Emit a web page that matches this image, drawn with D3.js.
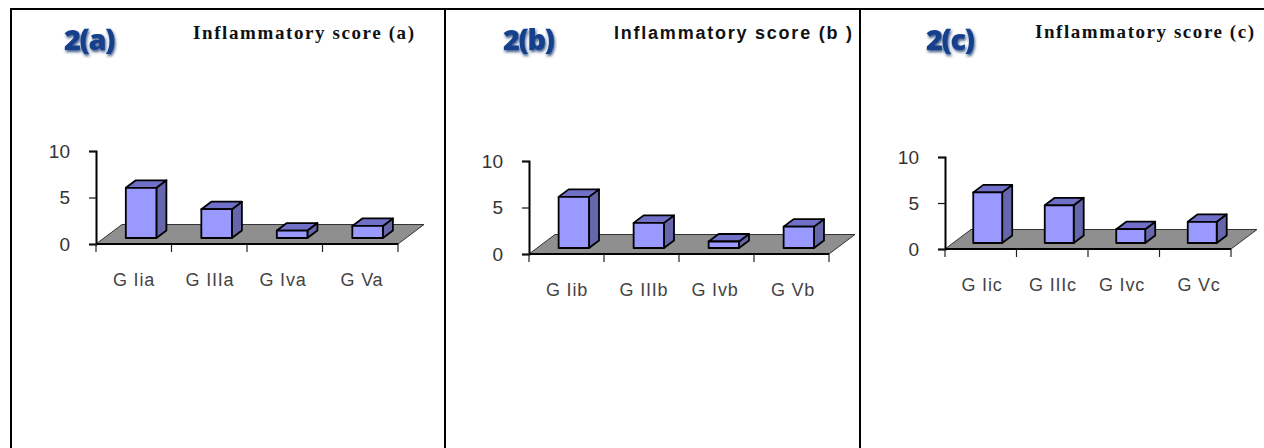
<!DOCTYPE html>
<html><head><meta charset="utf-8">
<script src="https://cdnjs.cloudflare.com/ajax/libs/d3/7.8.5/d3.min.js"></script>
<style>html,body{margin:0;padding:0;background:#fff;overflow:hidden}svg{display:block}</style>
</head><body><svg id="c" width="1264" height="448"></svg>
<script>
const categoriesA = ["G Iia","G IIIa","G Iva","G Va"];
const categoriesB = ["G Iib","G IIIb","G Ivb","G Vb"];
const categoriesC = ["G Iic","G IIIc","G Ivc","G Vc"];
const valuesA = [5.4,3.1,0.8,1.3];
const valuesB = [5.5,2.7,0.7,2.3];
const valuesC = [5.5,4.1,1.5,2.3];
const yTicks = [0,5,10];
const panelLabels = ["2(a)","2(b)","2(c)"];
const titles = ["Inflammatory score (a)","Inflammatory score (b )","Inflammatory score (c)"];

const layout = [
 {x0:96,x1:398,yZero:244,yTop:151,cats:categoriesA,vals:valuesA,label:panelLabels[0],lx:64,ly:50,title:titles[0],tx:193,ty:39,tf:"'Liberation Serif'",tw:221,fs:19,
  catX:[134,210,283,362],catY:286},
 {x0:529,x1:829,yZero:254,yTop:161,cats:categoriesB,vals:valuesB,label:panelLabels[1],lx:503,ly:50,title:titles[1],tx:614,ty:39,tf:"'Liberation Sans'",tw:238,fs:18,
  catX:[567,644,715,793],catY:296},
 {x0:945,x1:1231,yZero:249,yTop:157,cats:categoriesC,vals:valuesC,label:panelLabels[2],lx:926,ly:50,title:titles[2],tx:1035,ty:38,tf:"'Liberation Serif'",tw:219,fs:19,
  catX:[982,1053,1122,1199],catY:291}
];

const svg = d3.select("#c");
const defs = svg.append("defs");
const f = defs.append("filter").attr("id","glow").attr("x","-30%").attr("y","-30%").attr("width","170%").attr("height","170%");
f.append("feGaussianBlur").attr("in","SourceAlpha").attr("stdDeviation",1.8).attr("result","b");
f.append("feOffset").attr("in","b").attr("dx",1).attr("dy",2).attr("result","o");
f.append("feFlood").attr("flood-color","#0b2a66").attr("flood-opacity",0.8);
f.append("feComposite").attr("in2","o").attr("operator","in").attr("result","s");
const m = f.append("feMerge"); m.append("feMergeNode").attr("in","s"); m.append("feMergeNode").attr("in","SourceGraphic");

// table frame
const frame = svg.append("g").attr("fill","none").attr("stroke","#000").attr("stroke-width",2);
frame.append("line").attr("x1",10).attr("x2",1264).attr("y1",9).attr("y2",9);
[11,445,860].forEach(x=>frame.append("line").attr("x1",x).attr("x2",x).attr("y1",8).attr("y2",448));

const depthX = 26, depthY = 19.5;   // floor depth
const barDX = 10, barDY = 7.5;      // bar depth
const line = d3.line();

layout.forEach(p=>{
  const g = svg.append("g");
  const y = d3.scaleLinear().domain([0,10]).range([p.yZero,p.yTop]);
  const x = d3.scaleBand().domain(p.cats).range([p.x0,p.x1]);
  const bw = x.bandwidth();

  // floor
  g.append("path").attr("d",line([[p.x0,p.yZero],[p.x0+depthX,p.yZero-depthY],[p.x1+depthX,p.yZero-depthY],[p.x1,p.yZero]])+"Z")
    .attr("fill","#8f8f8f").attr("stroke","#333").attr("stroke-width",1);
  g.append("line").attr("x1",p.x0).attr("x2",p.x1).attr("y1",p.yZero).attr("y2",p.yZero).attr("stroke","#000").attr("stroke-width",2);

  // y axis
  const ya = g.append("g").attr("transform",`translate(${p.x0},0)`)
    .call(d3.axisLeft(y).tickValues(yTicks).tickSize(7).tickPadding(19));
  ya.select(".domain").attr("stroke","#000").attr("stroke-width",2);
  ya.selectAll(".tick line").attr("stroke","#111").attr("stroke-width",1.2);
  ya.selectAll("text").attr("font-family","'Liberation Sans'").attr("font-size",19).attr("fill","#333");

  // x axis ticks
  const xa = g.append("g").attr("transform",`translate(0,${p.yZero})`)
    .call(d3.axisBottom(x).tickSize(0).tickFormat(""));
  xa.select(".domain").remove();
  g.selectAll("line.xt").data(x.domain().map(d=>x(d)).concat([p.x1])).join("line").attr("class","xt")
    .attr("x1",d=>d).attr("x2",d=>d).attr("y1",p.yZero).attr("y2",p.yZero+8).attr("stroke","#222").attr("stroke-width",1.2);

  // bars
  const baseY = p.yZero - 6;
  p.vals.forEach((v,i)=>{
    const c = p.cats[i];
    const bl = x(c) + bw*0.395, br = bl + bw*0.405;
    const top = baseY - (y(0)-y(v));
    const s = {stroke:"#000","stroke-width":1.8,"stroke-linejoin":"round"};
    const add = (pts,fill)=>{const e=g.append("path").attr("d",line(pts)+"Z").attr("fill",fill);Object.entries(s).forEach(([k,w])=>e.attr(k,w));};
    add([[br,top],[br+barDX,top-barDY],[br+barDX,baseY-barDY],[br,baseY]],"#6666aa");
    add([[bl,top],[bl+barDX,top-barDY],[br+barDX,top-barDY],[br,top]],"#7070c8");
    add([[bl,top],[br,top],[br,baseY],[bl,baseY]],"#9999ff");
  });

  // category labels
  g.selectAll("text.cat").data(p.cats).join("text").attr("class","cat")
    .attr("x",(d,i)=>p.catX[i]).attr("y",p.catY).attr("text-anchor","middle")
    .attr("font-family","'Liberation Sans'").attr("font-size",18).attr("letter-spacing",0.8).attr("fill","#444")
    .text(d=>d);

  // title
  g.append("text").attr("x",p.tx).attr("y",p.ty).attr("font-family",p.tf).attr("font-size",p.fs)
    .attr("font-weight",700).attr("fill","#111").attr("textLength",p.tw).attr("lengthAdjust","spacing").text(p.title);

  // panel label
  g.append("text").attr("x",p.lx).attr("y",p.ly).attr("font-family","'Open Sans'").attr("font-weight",800).attr("font-size",29)
    .attr("letter-spacing",-1.5).attr("fill","#14408c").attr("filter","url(#glow)").text(p.label);
});
</script></body></html>
